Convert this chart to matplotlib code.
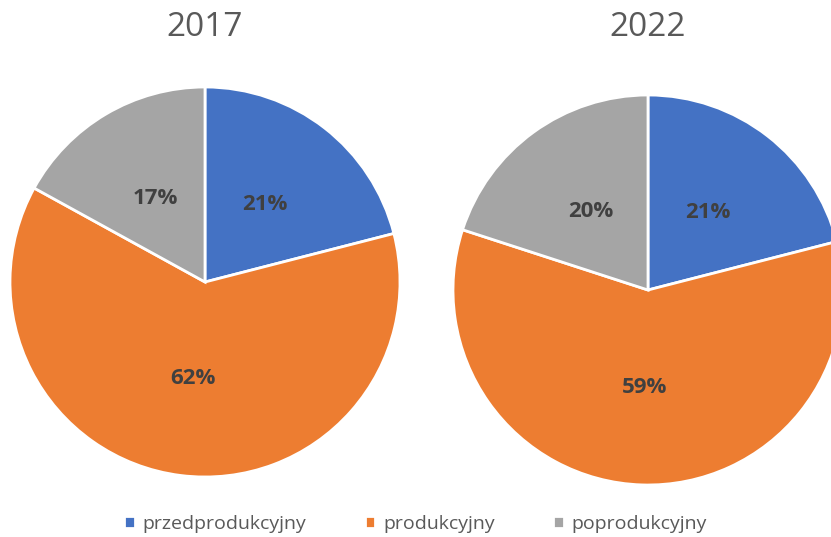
import matplotlib.pyplot as plt

categories = ['przedprodukcyjny', 'produkcyjny', 'poprodukcyjny']
years = ['2017', '2022']
values_2017 = [21, 62, 17]
values_2022 = [21, 59, 20]
colors = ['#4472C4', '#ED7D31', '#A5A5A5']

plt.rcParams['font.family'] = ['Open Sans', 'DejaVu Sans']

fig = plt.figure(figsize=(8.31, 5.37), dpi=100)
W, H = 831, 537

# pie boxes in pixels: (left, top, size)
boxes = [(10, 87, 390), (453, 95, 390)]
wedges_all = None
for (x0, y0, s), year, vals in zip(boxes, years, [values_2017, values_2022]):
    ax = fig.add_axes([x0 / W, (H - y0 - s) / H, s / W, s / H])
    wedges, texts, autotexts = ax.pie(
        vals, colors=colors, startangle=90, counterclock=False,
        autopct=lambda p: '{:.0f}%'.format(p), pctdistance=0.5, radius=1,
        wedgeprops=dict(edgecolor='white', linewidth=2),
        textprops=dict(fontsize=16, fontweight='bold', color='#404040'))
    ax.set_xlim(-1, 1)
    ax.set_ylim(-1, 1)
    ax.set_aspect('equal')
    for w in wedges:
        w.set_clip_on(False)
    fig.text((x0 + s / 2) / W, 1 - 28 / H, year, ha='center', va='center',
             fontsize=24, color='#595959')
    wedges_all = wedges

fig.legend(wedges_all, categories, loc='center', bbox_to_anchor=(0.5, 1 - 524 / H),
           ncol=3, frameon=False, fontsize=14, labelcolor='#595959',
           handlelength=0.55, handleheight=0.55, handletextpad=0.4, columnspacing=3.0)

fig.savefig('out.png', dpi=100)
